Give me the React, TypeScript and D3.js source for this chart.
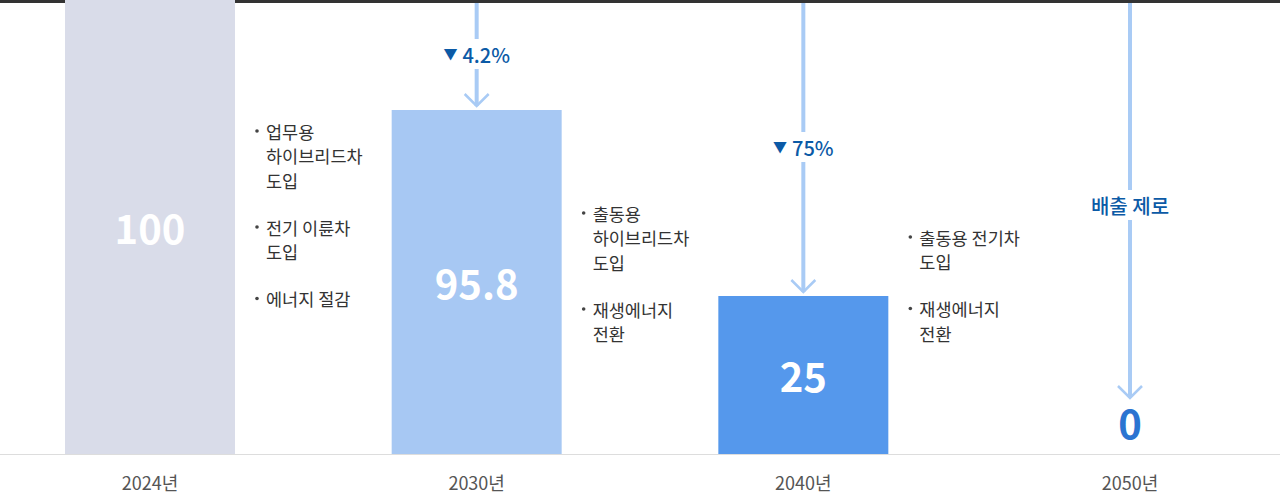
import * as d3 from 'd3'

// chart data
const years = ['2024년', '2030년', '2040년', '2050년']
const values = [100, 95.8, 25, 0]
const valueLabels = ['100', '95.8', '25', '0']
const changeLabels = ['', '4.2%', '75%', '배출 제로']
const barColors = ['#d9dce9', '#a7c8f3', '#5598ec', 'none']

// measures listed after each bar (each item is split into lines)
const measures2024 = [['업무용', '하이브리드차', '도입'], ['전기 이륜차', '도입'], ['에너지 절감']]
const measures2030 = [['출동용', '하이브리드차', '도입'], ['재생에너지', '전환']]
const measures2040 = [['출동용 전기차', '도입'], ['재생에너지', '전환']]
const measures = [measures2024, measures2030, measures2040]

const W = 1280
const H = 494
const baseY = 454
const barW = 170
const font = '"Noto Sans CJK KR", "Noto Sans", sans-serif'
const listTop = [131, 213, 237]
const lineH = 24.5
const itemGap = 47

export default function App() {
    const x = d3.scalePoint<string>().domain(years).range([150, 1130])
    // stepped emphasis scale, as drawn in the original graphic
    const y = d3.scaleLinear().domain([0, 25, 95.8, 100]).range([baseY, 296, 110, 0])

    return (
        <svg width={W} height={H} style={{ position: 'absolute', left: 0, top: 0, background: '#fff' }}>
            <rect x={0} y={0} width={W} height={3} fill="#333" />
            <line x1={0} x2={W} y1={baseY + 0.5} y2={baseY + 0.5} stroke="#ddd" strokeWidth={1} />

            {years.map((yr, i) => {
                const cx = x(yr)!
                const top = y(values[i])
                const hasBar = values[i] > 0
                return (
                    <g key={yr}>
                        {hasBar && (
                            <rect x={cx - barW / 2} y={top} width={barW} height={baseY - top} fill={barColors[i]} />
                        )}
                        <text x={cx} y={482} textAnchor="middle" dominantBaseline="central"
                            fontFamily={font} fontSize={18} fill="#555">{yr}</text>
                        {hasBar ? (
                            <text x={cx} y={(top + baseY) / 2} textAnchor="middle" dominantBaseline="central"
                                fontFamily={font} fontSize={40} fontWeight={700} fill="#fff">{valueLabels[i]}</text>
                        ) : (
                            <text x={cx} y={422} textAnchor="middle" dominantBaseline="central"
                                fontFamily={font} fontSize={40} fontWeight={700} fill="#2b74d1">{valueLabels[i]}</text>
                        )}
                    </g>
                )
            })}

            {years.slice(1).map((yr, j) => {
                const i = j + 1
                const cx = x(yr)!
                const tip = values[i] > 0 ? y(values[i]) - 4 : 398
                const mid = (3 + tip) / 2 + (values[i] > 0 ? -0.5 : 4.5)
                const isPct = values[i] > 0
                return (
                    <g key={'arr' + yr}>
                        <line x1={cx} x2={cx} y1={3} y2={tip} stroke="#a9cbf5" strokeWidth={4} />
                        <path d={`M${cx - 12},${tip - 12} L${cx},${tip} L${cx + 12},${tip - 12}`}
                            fill="none" stroke="#a9cbf5" strokeWidth={2.5} />
                        <rect x={cx - 50} y={mid - 15} width={100} height={30} fill="#fff" />
                        <text x={cx} y={mid} textAnchor="middle" dominantBaseline="central"
                            fontFamily={font} fontSize={20} fontWeight={500} fill="#0b5aa6">
                            {isPct && <tspan fontSize={14} dy={-1}>▼</tspan>}
                            {isPct && <tspan dy={1} dx={5}>{changeLabels[i]}</tspan>}
                            {!isPct && changeLabels[i]}
                        </text>
                    </g>
                )
            })}

            {measures.map((list, c) => {
                const bx = x(years[c])! + barW / 2 + 20
                let cy = listTop[c]
                const rows: { y: number; t: string; first: boolean }[] = []
                list.forEach((item, k) => {
                    if (k > 0) cy += itemGap - lineH
                    item.forEach((t, l) => {
                        rows.push({ y: cy, t, first: l === 0 })
                        cy += lineH
                    })
                })
                return (
                    <g key={'m' + c}>
                        {rows.map((r, k) => (
                            <g key={k}>
                                {r.first && <circle cx={bx + 2} cy={r.y} r={1.8} fill="#444" />}
                                <text x={bx + 11} y={r.y} dominantBaseline="central"
                                    fontFamily={font} fontSize={17.5} fill="#333">{r.t}</text>
                            </g>
                        ))}
                    </g>
                )
            })}
        </svg>
    )
}
